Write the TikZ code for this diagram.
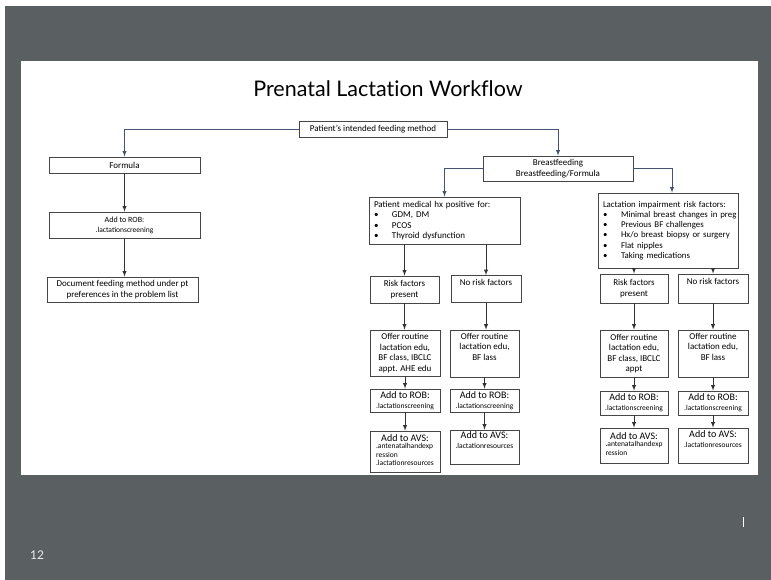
\documentclass[tikz,border=0pt]{standalone}
\usepackage{fontspec}
\setmainfont{Carlito}
\newfontfamily\titlefont[Ligatures=NoCommon]{Lato}

\definecolor{slidegray}{RGB}{90,95,98}
\definecolor{linkblue}{RGB}{68,84,112}
\definecolor{boxline}{RGB}{70,70,70}

\newcommand{\code}[1]{{\fontsize{7.5}{8.5}\selectfont #1}}
\newcommand{\codelines}[1]{{\fontsize{7.5}{8.5}\selectfont\begin{tabular}{@{}l@{}}#1\end{tabular}}}
\newcommand{\bul}[1]{\mbox{\makebox[18pt][l]{\textbullet}#1}}

\begin{document}
\begin{tikzpicture}[x=1pt, y=-1pt,
        box/.style={rectangle, draw=boxline, line width=0.8pt, fill=white, align=center, inner sep=2pt, font=\fontsize{9}{10.5}\selectfont},
        listbox/.style={box, align=left, inner xsep=5pt},
        ehr/.style={box, font=\fontsize{10}{10}\selectfont},
        link/.style={->, draw=linkblue, line width=0.9pt},
        flow/.style={->, draw=black!80, line width=0.9pt},
        >=latex
    ]

    %slide
    \fill[white] (0,0) rectangle (771,580);
    \fill[slidegray] (5,6) rectangle (771,580);
    \fill[white] (21,61) rectangle (758,475);
    \useasboundingbox (0,0) rectangle (771,580);

    \node[font=\titlefont\fontsize{21.5}{24}\selectfont] (title) at (388,89) {Prenatal Lactation Workflow};

    %top level
    \node[box, minimum width=148pt, minimum height=16pt] (intent)  at (373,129)   {Patient's intended feeding method};
    \node[box, minimum width=151pt, minimum height=16pt] (formula) at (124.5,165) {Formula};
    \node[box, minimum width=150pt, minimum height=25pt] (bf)      at (558,168.5) {Breastfeeding\\Breastfeeding/Formula};

    %formula branch
    \node[box, minimum width=151pt, minimum height=26pt, font=\fontsize{8}{10}\selectfont] (rob0) at (124.5,225) {Add to ROB:\\\code{.lactationscreening}};
    \node[box, minimum width=151pt, minimum height=25pt] (docpref) at (122.5,289.5) {Document feeding method under pt\\preferences in the problem list};

    %risk lists
    \node[listbox, text width=141pt, minimum height=47pt] (medhx) at (444.5,220.5)
        {Patient medical hx positive for:\\
         \bul{GDM, DM}\\
         \bul{PCOS}\\
         \bul{Thyroid dysfunction}};
    \node[listbox, text width=130pt, minimum height=75pt, font=\fontsize{8.8}{10.2}\selectfont] (lacthx) at (668,230.5)
        {Lactation impairment risk factors:\\
         \bul{Minimal breast changes in preg}\\
         \bul{Previous BF challenges}\\
         \bul{Hx/o breast biopsy or surgery}\\
         \bul{Flat nipples}\\
         \bul{Taking medications}};

    %medical hx group
    \node[box, minimum width=69pt, minimum height=27pt] (riskA)   at (404.5,289.5) {Risk factors\\present};
    \node[box, minimum width=70pt, minimum height=27pt] (noriskA) at (486,289)     {No risk factors\\\strut};
    \node[box, minimum width=70pt, minimum height=46pt] (offerA)  at (405,353)     {Offer routine\\lactation edu,\\BF class, IBCLC\\appt. AHE edu};
    \node[box, minimum width=69pt, minimum height=47pt] (offerNA) at (484.5,353.5) {Offer routine\\lactation edu,\\BF lass\\\strut};
    \node[ehr, minimum width=70pt, minimum height=23pt] (robA)    at (405,400.5)   {Add to ROB:\\\code{.lactationscreening}};
    \node[ehr, minimum width=69pt, minimum height=23pt] (robNA)   at (484.5,400.5) {Add to ROB:\\\code{.lactationscreening}};
    \node[ehr, minimum width=70pt, minimum height=41pt] (avsA)    at (405,451.5)   {Add to AVS:\\\codelines{.antenatalhandexp\\ression\\.lactationresources}};
    \node[ehr, minimum width=69pt, minimum height=32pt] (avsNA)   at (484.5,447)   {Add to AVS:\\\code{.lactationresources}\\\strut};

    %lactation impairment group
    \node[box, minimum width=68pt, minimum height=29pt] (riskB)   at (634,288.5) {Risk factors\\present};
    \node[box, minimum width=70pt, minimum height=29pt] (noriskB) at (713,288.5) {No risk factors\\\strut};
    \node[box, minimum width=68pt, minimum height=47pt] (offerB)  at (634,353.5) {Offer routine\\lactation edu,\\BF class, IBCLC\\appt};
    \node[box, minimum width=70pt, minimum height=47pt] (offerNB) at (713,353.5) {Offer routine\\lactation edu,\\BF lass\\\strut};
    \node[ehr, minimum width=68pt, minimum height=24pt] (robB)    at (634,403)   {Add to ROB:\\\code{.lactationscreening}};
    \node[ehr, minimum width=70pt, minimum height=24pt] (robNB)   at (713,403)   {Add to ROB:\\\code{.lactationscreening}};
    \node[ehr, minimum width=68pt, minimum height=35pt] (avsB)    at (634,445.5) {Add to AVS:\\\codelines{.antenatalhandexp\\ression}};
    \node[ehr, minimum width=70pt, minimum height=35pt] (avsNB)   at (713,445.5) {Add to AVS:\\\code{.lactationresources}\\\strut};

    %footer
    \node[text=white!88!slidegray, font=\titlefont\fontsize{12}{14}\selectfont] (pagenum) at (37,555) {12};
    \draw[white, line width=0.8pt] (743,517) -- (743,527);

    %feeding method arrows
    \draw[link] (intent.west) -| (formula.north);
    \draw[link] (intent.east) -| (bf.north);
    \draw[link] (bf.west) -| (medhx.north);
    \draw[link] (bf.east) -| ([xshift=4pt]lacthx.north);

    %risk arrows
    \draw[flow] (medhx.south -| riskA.north) -- (riskA.north);
    \draw[flow] (medhx.south -| noriskA.north) -- (noriskA.north);
    \draw[flow] (lacthx.south -| riskB.north) -- (riskB.north);
    \draw[flow] (lacthx.south -| noriskB.north) -- (noriskB.north);

    %down the columns
    \foreach \a/\b in {formula/rob0, rob0/docpref,
                       riskA/offerA, offerA/robA, robA/avsA,
                       noriskA/offerNA, offerNA/robNA, robNA/avsNA,
                       riskB/offerB, offerB/robB, robB/avsB,
                       noriskB/offerNB, offerNB/robNB, robNB/avsNB}
        \draw[flow] (\a.south) -- (\a.south |- \b.north);

\end{tikzpicture}
\end{document}
